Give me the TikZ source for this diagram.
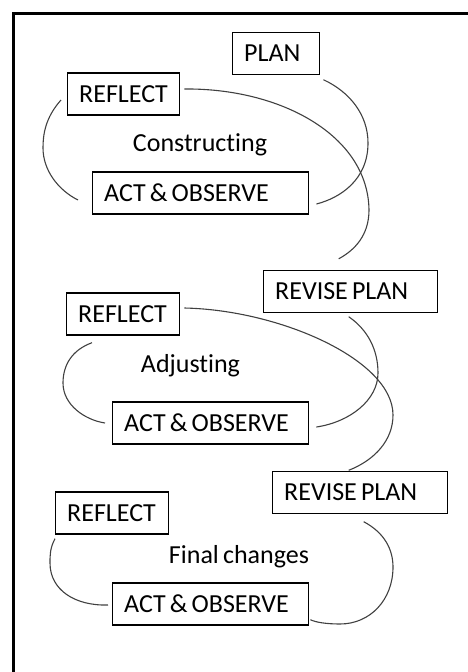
\documentclass[tikz,border=0pt]{standalone}
\usepackage{fontspec}
\setmainfont{Carlito}[Ligatures=NoCommon, WordSpace=0.7]
\newcommand\bxt[2]{\makebox[#1][l]{#2}}
\begin{document}
\begin{tikzpicture}[x=1pt,y=-1pt,
  box/.style={draw=black, line width=1.4pt, inner xsep=11.5pt, inner ysep=0pt,
    minimum height=42pt, text height=16.7pt, text depth=0pt,
    font=\fontsize{26}{29}\selectfont, anchor=west},
  lbl/.style={font=\fontsize{26}{29}\selectfont, inner sep=0pt},
  arc/.style={draw=black!75, line width=1.1pt}]
\useasboundingbox (0,0) rectangle (468,672);
\draw[line width=2.5pt] (13.5,672) -- (13.5,13.5) -- (468,13.5);
% boxes
\node[box] (plan)  at (232,53.5) {\bxt{64pt}{PLAN}};
\node[box] (refl1) at (67,94)    {\bxt{89pt}{REFLECT}};
\node[box] (act1)  at (92,193)   {\bxt{193pt}{ACT \& OBSERVE}};
\node[box] (rev1)  at (263,291.5){\bxt{151pt}{REVISE PLAN}};
\node[box] (refl2) at (66,314)   {\bxt{90pt}{REFLECT}};
\node[box] (act2)  at (112,423)  {\bxt{173pt}{ACT \& OBSERVE}};
\node[box] (rev2)  at (272,492.5){\bxt{152pt}{REVISE PLAN}};
\node[box] (refl3) at (55,513)   {\bxt{90pt}{REFLECT}};
\node[box] (act3)  at (112,604)  {\bxt{173pt}{ACT \& OBSERVE}};
% labels
\node[lbl] (l1) at (200,145) {Constructing};
\node[lbl] (l2) at (190.5,366) {Adjusting};
\node[lbl] (l3) at (239,557) {Final changes};
% cycle 1
\path[arc] ([shift={(3,4.5)}]plan.south east) .. controls (350,92) and (368,115) .. (368,143)
  .. controls (368,180) and (340,198) .. ([shift={(7,11)}]act1.east);
\path[arc] ([shift={(4,-5)}]refl1.east) .. controls (280,88) and (368,135) .. (369,210)
  .. controls (369,235) and (355,250) .. ([shift={(-12,-11)}]rev1.north);
\path[arc] ([shift={(-6,6)}]refl1.west) .. controls (45,118) and (43,135) .. (43,148)
  .. controls (43,170) and (58,190) .. ([shift={(-14,7)}]act1.west);
% cycle 2
\path[arc] ([shift={(-2,3.5)}]rev1.south) .. controls (368,330) and (378,350) .. (378,373)
  .. controls (378,400) and (350,422) .. ([shift={(7,4)}]act2.east);
\path[arc] ([shift={(4,-6)}]refl2.east) .. controls (280,310) and (393,360) .. (393,415)
  .. controls (393,440) and (375,460) .. ([shift={(-11.5,-0.5)}]rev2.north);
\path[arc] ([shift={(26,7)}]refl2.south west) .. controls (72,350) and (63,365) .. (63,383)
  .. controls (63,405) and (85,420) .. ([shift={(-7,0)}]act2.west);
% cycle 3
\path[arc] ([shift={(3.5,7.5)}]rev2.south) .. controls (385,533) and (393,550) .. (393,567)
  .. controls (393,600) and (370,624) .. (340,624)
  .. controls (325,624) and (315,622) .. ([shift={(1,-6)}]act3.south east);
\path[arc] ([shift={(0,4)}]refl3.south west) .. controls (50,548) and (50,555) .. (50,563)
  .. controls (50,590) and (75,606) .. ([shift={(-4,1)}]act3.west);
\end{tikzpicture}
\end{document}
